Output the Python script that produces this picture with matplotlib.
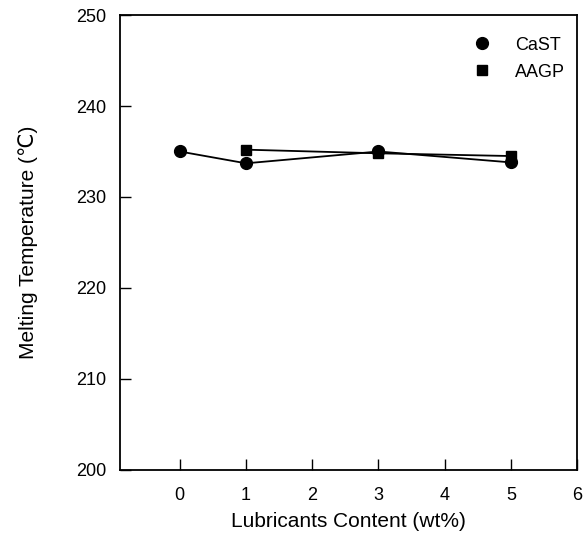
import matplotlib
matplotlib.use("Agg")
import matplotlib.pyplot as plt

plt.rcParams["font.family"] = ["Liberation Sans", "DejaVu Sans"]

cast_x = [0, 1, 3, 5]
cast_y = [235.0, 233.7, 235.0, 233.8]
aagp_x = [1, 3, 5]
aagp_y = [235.2, 234.8, 234.5]

fig = plt.figure(figsize=(5.86, 5.37), dpi=100)
ax = fig.add_axes([0.205, 0.125, 0.78, 0.847])

ax.plot(cast_x, cast_y, "-o", color="black", lw=1.3, ms=8.5, label="CaST")
ax.plot(aagp_x, aagp_y, "-s", color="black", lw=1.3, ms=7, label="AAGP")

ax.set_xlim(-0.9, 6)
ax.set_ylim(200, 250)
ax.set_xticks(range(0, 7))
ax.set_yticks(range(200, 251, 10))
ax.tick_params(direction="in", length=8, width=1, labelsize=13)
ax.tick_params(axis="x", pad=12)
ax.tick_params(axis="y", pad=10)
for s in ax.spines.values():
    s.set_linewidth(1.3)

ax.set_xlabel("Lubricants Content (wt%)", fontsize=15, labelpad=6)
ax.set_ylabel("Melting Temperature (\u2103)", fontsize=15, labelpad=27)

leg = ax.legend(loc="upper right", bbox_to_anchor=(1.02, 1.0), frameon=False,
                fontsize=13, handlelength=1.2, handletextpad=1.2,
                labelspacing=0.55, borderaxespad=0.8)
for line in leg.get_lines():
    line.set_linestyle("none")

fig.savefig("out.png", dpi=100)
